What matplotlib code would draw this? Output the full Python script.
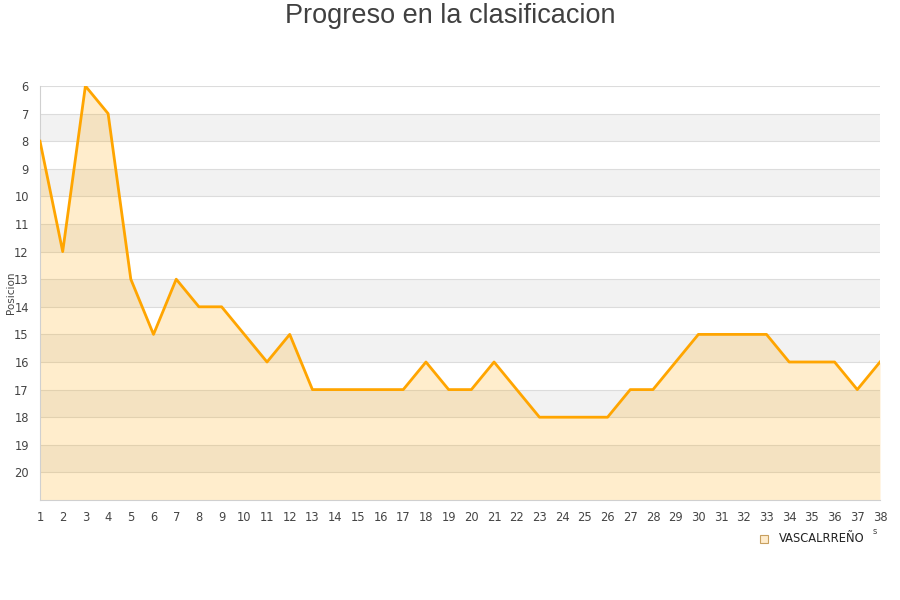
import matplotlib
matplotlib.use("Agg")
import matplotlib.pyplot as plt
from matplotlib.patches import Rectangle

jornadas = list(range(1, 39))
posiciones = [8, 12, 6, 7, 13, 15, 13, 14, 14, 15, 16, 15, 17, 17, 17, 17, 17, 16, 17, 17,
              16, 17, 18, 18, 18, 18, 17, 17, 16, 15, 15, 15, 15, 16, 16, 16, 17, 16]
y_ticks = list(range(6, 21))
team = "VASCALRREÑO"
title = "Progreso en la clasificacion"
ylabel = "Posicion"

fig = plt.figure(figsize=(9, 6), dpi=100)
ax = fig.add_axes([40/900, 1-500/600, 840/900, 414/600])

ymin, ymax = 6, 21
ax.set_xlim(1, 38)
ax.set_ylim(ymax, ymin)

# alternating bands
for v in range(ymin, ymax):
    if v % 2 == 1:
        ax.axhspan(v, v + 1, color="#f2f2f2", zorder=0, lw=0)
for v in range(ymin, ymax):
    ax.axhline(v, color="#dcdcdc", lw=0.8, zorder=1)

ax.fill_between(jornadas, posiciones, ymax, color="#ffa500", alpha=0.2, lw=0, zorder=2)
ax.plot(jornadas, posiciones, color="#ffa500", lw=2, zorder=3)

ax.set_yticks(y_ticks)
ax.set_xticks(jornadas)
ax.tick_params(axis="both", length=0, labelsize=8.3, colors="#444444")
ax.tick_params(axis="x", pad=8)
ax.tick_params(axis="y", pad=8)
for s in ["top", "right"]:
    ax.spines[s].set_visible(False)
for s in ["left", "bottom"]:
    ax.spines[s].set_color("#d0d0d0")
ax.set_ylabel(ylabel, fontsize=7.5, color="#444444")
ax.yaxis.set_label_coords(-24/840, 0.5)

fig.text(0.5, 1-16/600, title, ha="center", va="center", fontsize=19.5,
         color="#404040", family="Liberation Sans")

# legend
fig.patches.append(Rectangle((760/900, 1-543/600), 8/900, 8/600, transform=fig.transFigure,
                             facecolor="#ffeccc", edgecolor="#c8a060", lw=0.8))
fig.text(779/900, 1-539/600, team, ha="left", va="center", fontsize=8.3, color="#222222")
fig.text(875/900, 1-531/600, "s", ha="center", va="center", fontsize=6, color="#444444")

fig.savefig("out.png", dpi=100, facecolor="white")
